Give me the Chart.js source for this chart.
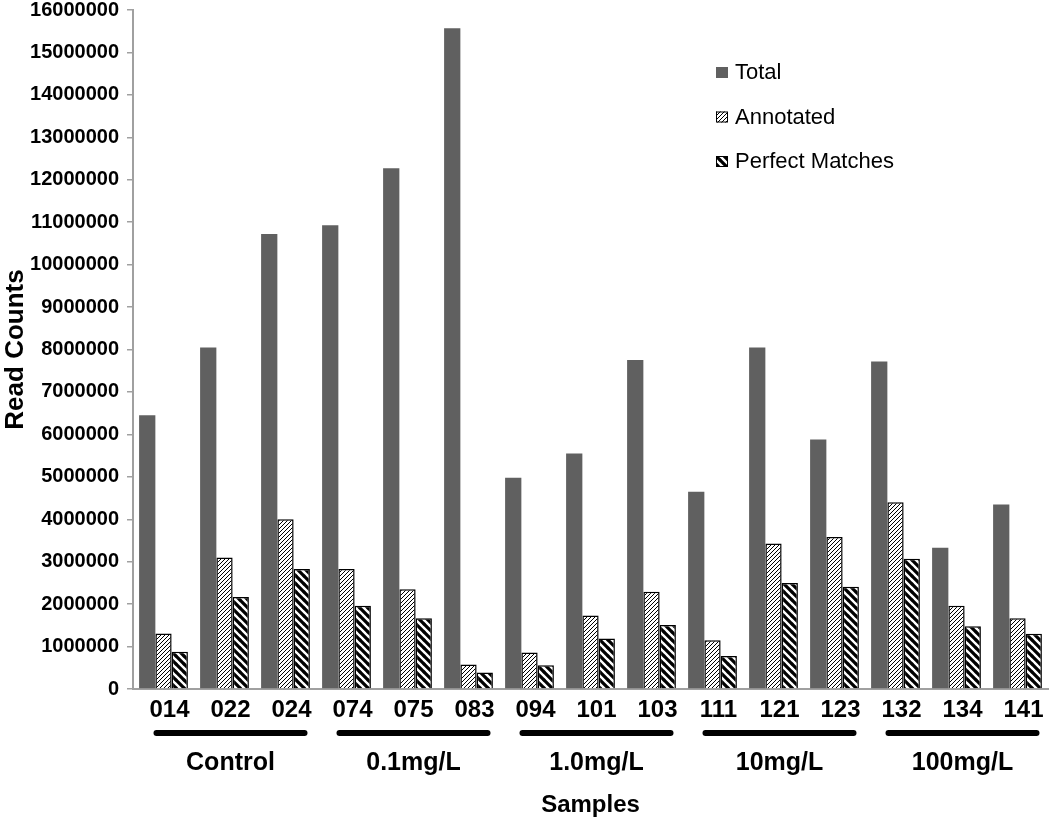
<!DOCTYPE html>
<html>
<head>
<meta charset="utf-8">
<script src="https://cdn.jsdelivr.net/npm/chart.js@4.4.1/dist/chart.umd.min.js"></script>
<style>
  html, body { margin: 0; padding: 0; background: #fff; }
  #wrap { width: 1050px; height: 822px; }
</style>
</head>
<body>
<div id="wrap"><canvas id="chart"></canvas></div>
<script>
// sample ids and read counts
const samples = ['014', '022', '024', '074', '075', '083', '094', '101', '103', '111', '121', '123', '132', '134', '141'];
const totalReads = [6450000, 8050000, 10720000, 10930000, 12270000, 15570000, 4980000, 5550000, 7750000, 4650000, 8050000, 5880000, 7720000, 3330000, 4350000];
const annotatedReads = [1310000, 3100000, 4000000, 2830000, 2350000, 580000, 860000, 1730000, 2290000, 1150000, 3430000, 3580000, 4400000, 1960000, 1670000];
const perfectReads = [880000, 2170000, 2830000, 1960000, 1670000, 390000, 560000, 1190000, 1510000, 780000, 2500000, 2410000, 3070000, 1480000, 1300000];

// treatment groups under the axis
const groupNames = ['Control', '0.1mg/L', '1.0mg/L', '10mg/L', '100mg/L'];
const groupFirst = [0, 3, 6, 9, 12];
const groupLast = [2, 5, 8, 11, 14];

const FONT = '"Liberation Sans", Arial, sans-serif';

// hatch patterns
function hatch(period, lineW, forward) {
  const c = document.createElement('canvas');
  c.width = period; c.height = period;
  const g = c.getContext('2d');
  g.fillStyle = '#fff';
  g.fillRect(0, 0, period, period);
  g.strokeStyle = '#000';
  g.lineWidth = lineW;
  g.beginPath();
  if (forward) {
    g.moveTo(-1, period + 1); g.lineTo(period + 1, -1);
    g.moveTo(-1, 1); g.lineTo(1, -1);
    g.moveTo(period - 1, period + 1); g.lineTo(period + 1, period - 1);
  } else {
    g.moveTo(-1, -1); g.lineTo(period + 1, period + 1);
    g.moveTo(period - 1, -1); g.lineTo(period + 1, 1);
    g.moveTo(-1, period - 1); g.lineTo(1, period + 1);
  }
  g.stroke();
  return g.createPattern(c, 'repeat');
}

const fineHatch = hatch(4, 1, true);
const boldHatch = hatch(8, 3.2, false);

// group bars, labels, axis title and legend
const extras = {
  id: 'extras',
  afterDraw(chart) {
    const { ctx, chartArea } = chart;
    const x = chart.scales.x;
    const base = chartArea.bottom;
    ctx.save();
    ctx.fillStyle = '#000';
    ctx.strokeStyle = '#000';
    ctx.textAlign = 'center';
    ctx.textBaseline = 'middle';
    groupNames.forEach((name, i) => {
      const x1 = x.getPixelForValue(groupFirst[i]) - 7;
      const x2 = x.getPixelForValue(groupLast[i]) + 19;
      ctx.lineCap = 'round';
      ctx.lineWidth = 6;
      ctx.beginPath();
      ctx.moveTo(x1, base + 44);
      ctx.lineTo(x2, base + 44);
      ctx.stroke();
      ctx.font = 'bold 25px ' + FONT;
      ctx.fillText(name, (x1 + x2) / 2, base + 74);
    });
    ctx.font = 'bold 24px ' + FONT;
    ctx.fillText('Samples', (chartArea.left + chartArea.right) / 2, base + 116);

    // legend
    ctx.textAlign = 'left';
    ctx.font = '22px ' + FONT;
    chart.data.datasets.forEach((ds, i) => {
      const y = chartArea.top + 62 + i * 44.5;
      const bx = chartArea.right - 332;
      ctx.fillStyle = ds.backgroundColor;
      ctx.fillRect(bx, y - 5, 12, 11);
      if (ds.borderWidth) {
        ctx.lineWidth = 1;
        ctx.strokeStyle = '#000';
        ctx.strokeRect(bx + 0.5, y - 4.5, 11, 10);
      }
      ctx.fillStyle = '#000';
      ctx.fillText(ds.label, bx + 19, y + 1);
    });
    ctx.restore();
  }
};

new Chart(document.getElementById('chart'), {
  type: 'bar',
  data: {
    labels: samples,
    datasets: [
      { label: 'Total', data: totalReads, backgroundColor: '#606060', borderWidth: 0 },
      { label: 'Annotated', data: annotatedReads, backgroundColor: fineHatch, borderColor: '#000', borderWidth: 1.5 },
      { label: 'Perfect Matches', data: perfectReads, backgroundColor: boldHatch, borderColor: '#000', borderWidth: 1.5 }
    ]
  },
  options: {
    responsive: true,
    maintainAspectRatio: false,
    animation: false,
    layout: { padding: { top: 10, right: 2, left: 0, bottom: 0 } },
    datasets: { bar: { categoryPercentage: 0.8, barPercentage: 1 } },
    plugins: {
      legend: { display: false },
      tooltip: { enabled: false }
    },
    scales: {
      x: {
        grid: { display: false, drawTicks: false },
        border: { display: true, color: '#a0a0a0', width: 2 },
        ticks: {
          color: '#000',
          font: { family: FONT, size: 24, weight: 'bold' },
          padding: 7,
          labelOffset: 6,
          maxRotation: 0,
          autoSkip: false
        },
        afterFit(scale) { scale.height = 133; }
      },
      y: {
        min: 0,
        max: 16000000,
        grid: { display: true, drawOnChartArea: false, drawTicks: true, tickLength: 6, color: '#a0a0a0', lineWidth: 1.5 },
        border: { display: true, color: '#a0a0a0', width: 2 },
        ticks: {
          stepSize: 1000000,
          color: '#000',
          padding: 8,
          font: { family: FONT, size: 20, weight: 'bold' },
          callback: (v) => String(v)
        },
        title: {
          display: true,
          text: 'Read Counts',
          color: '#000',
          padding: 0,
          font: { family: FONT, size: 26, weight: 'bold' }
        },
        afterFit(scale) {
          scale.width = 133;
          scale.paddingTop = 0;
          scale.paddingBottom = 0;
        }
      }
    }
  },
  plugins: [extras]
});
</script>
</body>
</html>
